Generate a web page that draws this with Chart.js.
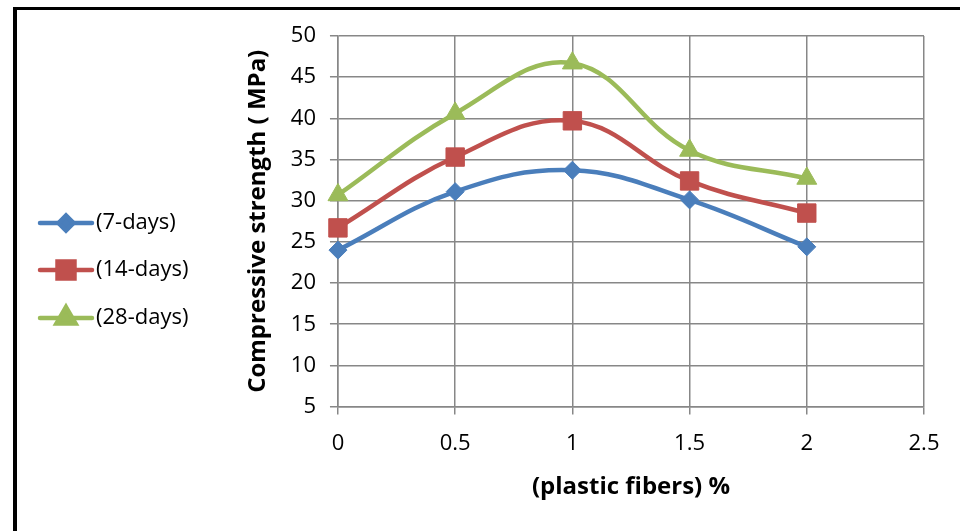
<!DOCTYPE html>
<html>
<head>
<meta charset="utf-8">
<script src="https://cdn.jsdelivr.net/npm/chart.js@4"></script>
<style>
  html, body { margin: 0; padding: 0; background: #fff; }
  #wrap { position: relative; width: 960px; height: 531px; overflow: hidden; }
  #frame { position: absolute; left: 13px; top: 7px; width: 1000px; height: 600px;
           border-left: 4px solid #000; border-top: 3px solid #000; }
  #chart { position: absolute; left: 0; top: 0; }
</style>
</head>
<body>
<div id="wrap">
  <div id="frame"></div>
  <canvas id="chart" width="960" height="531"></canvas>
</div>
<script>
// plastic fiber content (%)
const fibers = [0, 0.5, 1, 1.5, 2];
// compressive strength (MPa)
const days7 = [24.0, 31.1, 33.7, 30.1, 24.4];
const days14 = [26.7, 35.3, 39.7, 32.4, 28.5];
const days28 = [30.7, 40.6, 46.7, 36.1, 32.7];
const seriesNames = ['(7-days)', '(14-days)', '(28-days)'];

const FONT = "'Open Sans', sans-serif";

const pts = vals => vals.map((v, i) => ({x: fibers[i], y: v}));

const mkSet = (label, vals, color, style, r) => ({
  label: label,
  data: pts(vals),
  borderColor: color,
  backgroundColor: color,
  borderWidth: 4.5,
  pointStyle: style,
  pointRadius: r,
  pointHoverRadius: r,
  pointBorderWidth: 1,
  tension: 0.4,
  clip: false
});

// legend drawn on the left like the original
const sideLegend = {
  id: 'sideLegend',
  afterDraw(chart) {
    const ctx = chart.ctx;
    const ys = [223, 270, 318];
    const sizes = [7.5, 12, 11];
    chart.data.datasets.forEach((ds, i) => {
      const y = ys[i];
      ctx.save();
      ctx.strokeStyle = ds.borderColor;
      ctx.lineWidth = 4.5;
      ctx.lineCap = 'round';
      ctx.beginPath();
      ctx.moveTo(40, y);
      ctx.lineTo(92, y);
      ctx.stroke();
      ctx.fillStyle = ds.backgroundColor;
      Chart.helpers.drawPoint(ctx, {pointStyle: ds.pointStyle, radius: sizes[i], rotation: 0, borderWidth: 1}, 66, y);
      ctx.fillStyle = '#000';
      ctx.font = '22px ' + FONT;
      ctx.textBaseline = 'middle';
      ctx.fillText(ds.label, 96, y);
      ctx.restore();
    });
  }
};

new Chart(document.getElementById('chart'), {
  type: 'line',
  data: {
    datasets: [
      mkSet(seriesNames[0], days7, '#4A7EBB', 'rectRot', 9),
      mkSet(seriesNames[1], days14, '#C0504D', 'rect', 13),
      mkSet(seriesNames[2], days28, '#9BBB59', 'triangle', 11.5)
    ]
  },
  options: {
    responsive: false,
    animation: false,
    layout: { padding: { left: 240, right: 36, top: 36, bottom: 28 } },
    plugins: {
      legend: { display: false },
      tooltip: { enabled: false }
    },
    scales: {
      x: {
        type: 'linear',
        min: 0,
        max: 2.5,
        ticks: { stepSize: 0.5, color: '#000', font: { family: FONT, size: 22 }, padding: 16,
                 callback: v => String(v) },
        grid: { color: '#878787', lineWidth: 1.5, tickLength: 8 },
        border: { color: '#878787', width: 1.5 },
        title: { display: true, text: '(plastic fibers) %', color: '#000',
                 font: { family: FONT, size: 24, weight: 'bold', lineHeight: 1 }, padding: { top: 2 } }
      },
      y: {
        min: 5,
        max: 50,
        ticks: { stepSize: 5, color: '#000', font: { family: FONT, size: 22 }, padding: 14 },
        grid: { color: '#878787', lineWidth: 1.5, tickLength: 8 },
        border: { color: '#878787', width: 1.5 },
        title: { display: true, text: 'Compressive strength ( MPa)', color: '#000',
                 font: { family: FONT, size: 24, weight: 'bold' }, padding: { bottom: 4 } }
      }
    }
  },
  plugins: [sideLegend]
});
</script>
</body>
</html>
